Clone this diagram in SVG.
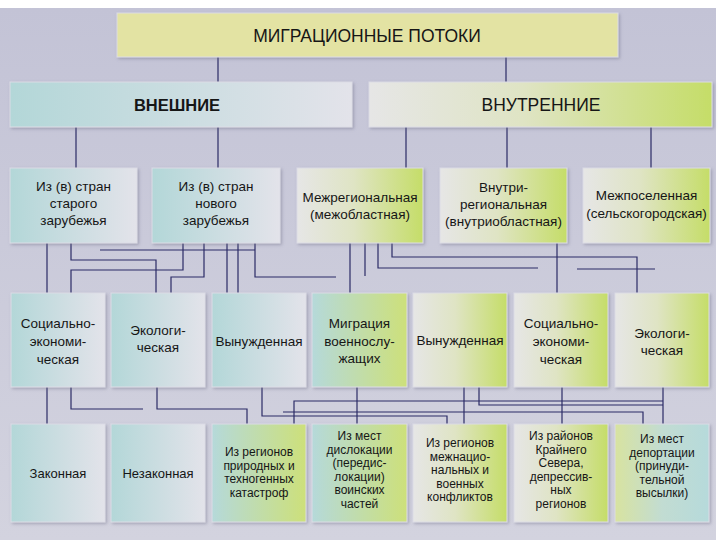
<svg xmlns="http://www.w3.org/2000/svg" width="720" height="540" viewBox="0 0 720 540">
<defs>
<linearGradient id="bg" x1="0" y1="0" x2="0" y2="1"><stop offset="0" stop-color="#c3c3d6"/><stop offset="1" stop-color="#d3d3df"/></linearGradient>
<linearGradient id="gTeal" x1="0" y1="0" x2="1" y2="0"><stop offset="0" stop-color="#b3d7d8"/><stop offset="1" stop-color="#e3e3ea"/></linearGradient>
<linearGradient id="gGreen" x1="0" y1="0" x2="1" y2="0"><stop offset="0" stop-color="#e6e6e6"/><stop offset="0.45" stop-color="#dfe4c4"/><stop offset="1" stop-color="#c5dd68"/></linearGradient>
<linearGradient id="gTG" x1="0" y1="0" x2="1" y2="0"><stop offset="0" stop-color="#b5d9da"/><stop offset="1" stop-color="#cde07a"/></linearGradient>
<linearGradient id="gGT" x1="0" y1="0" x2="1" y2="0"><stop offset="0" stop-color="#d8e3a0"/><stop offset="0.5" stop-color="#c2dcd2"/><stop offset="1" stop-color="#b6dadb"/></linearGradient>
<filter id="sh" x="-10%" y="-10%" width="125%" height="125%"><feDropShadow dx="1.5" dy="1.5" stdDeviation="1.5" flood-color="#707088" flood-opacity="0.45"/></filter>
</defs>
<style>
.b{stroke:#dcdce6;stroke-width:1;filter:url(#sh)}
text{font-family:"Liberation Sans",Arial,sans-serif;fill:#161616;text-anchor:middle}
.t1{font-size:17.5px}
.t3{font-size:13.5px}
.t5{font-size:12px}
.t6{font-size:13px}
.c path{fill:none;stroke:#2b2b66;stroke-width:1.2}
</style>
<rect x="0" y="0" width="720" height="540" fill="#ffffff"/>
<rect x="0" y="8" width="716" height="532" fill="url(#bg)"/>

<g class="c" id="connectors">
<path d="M218 57V82M506 57V82"/>
<path d="M76 127V168M218 127V168M406 127V168M507 127V168M651 127V168"/>
<path d="M47 243V293"/>
<path d="M71 243V260H156V293"/>
<path d="M183 243V270H71V293"/>
<path d="M204 243V277H171V293"/>
<path d="M227 243V293M238 243V293"/>
<path d="M100 250H255"/>
<path d="M255 243V277H336"/>
<path d="M350 243V293"/>
<path d="M365 243V276"/>
<path d="M378 243V268H538"/>
<path d="M392 243V257H637V293"/>
<path d="M557 243V293"/>
<path d="M577 269H655"/>
<path d="M47 387V424"/>
<path d="M71 387V409H143"/>
<path d="M157 387V409H247V424"/>
<path d="M262 387V416H447V424"/>
<path d="M283 412H643V424"/>
<path d="M663 387V424M663 401H294V424"/>
<path d="M357 387V424"/>
<path d="M464 387V424"/>
<path d="M479 387V405H663"/>
<path d="M562 387V424"/>
</g>

<g id="n-root"><rect class="b" x="117" y="13" width="501" height="44" fill="#e3e3a3"/><text class="t1" x="367" y="42">МИГРАЦИОННЫЕ ПОТОКИ</text></g>
<g id="n-ext"><rect class="b" x="10" y="82" width="342" height="45" fill="url(#gTeal)"/><text class="t1" x="177" y="111" style="font-weight:bold;font-size:16.5px">ВНЕШНИЕ</text></g>
<g id="n-int"><rect class="b" x="369" y="82" width="343" height="45" fill="url(#gGreen)"/><text class="t1" x="541" y="111">ВНУТРЕННИЕ</text></g>

<g id="n-old"><rect class="b" x="10" y="168" width="127" height="75" fill="url(#gTeal)"/><text class="t3" x="73.5" y="191">Из (в) стран<tspan x="73.5" dy="17">старого</tspan><tspan x="73.5" dy="17">зарубежья</tspan></text></g>
<g id="n-new"><rect class="b" x="152" y="168" width="128" height="75" fill="url(#gTeal)"/><text class="t3" x="216" y="191">Из (в) стран<tspan x="216" dy="17">нового</tspan><tspan x="216" dy="17">зарубежья</tspan></text></g>
<g id="n-interreg"><rect class="b" x="297" y="168" width="126" height="75" fill="url(#gGreen)"/><text class="t3" x="360" y="202">Межрегиональная<tspan x="360" dy="17">(межобластная)</tspan></text></g>
<g id="n-intrareg"><rect class="b" x="440" y="168" width="127" height="75" fill="url(#gGreen)"/><text class="t3" x="503.5" y="192">Внутри-<tspan x="503.5" dy="17">региональная</tspan><tspan x="503.5" dy="17">(внутриобластная)</tspan></text></g>
<g id="n-interset"><rect class="b" x="583" y="168" width="127" height="75" fill="url(#gGreen)"/><text class="t3" x="646.5" y="200">Межпоселенная<tspan x="646.5" dy="18">(сельскогородская)</tspan></text></g>

<g id="n-soc1"><rect class="b" x="11" y="293" width="94" height="94" fill="url(#gTeal)"/><text class="t3" x="58" y="328">Социально-<tspan x="58" dy="18">экономи-</tspan><tspan x="58" dy="18">ческая</tspan></text></g>
<g id="n-eco1"><rect class="b" x="111" y="293" width="94" height="94" fill="url(#gTeal)"/><text class="t3" x="158" y="335">Экологи-<tspan x="158" dy="17">ческая</tspan></text></g>
<g id="n-forced1"><rect class="b" x="212" y="293" width="94" height="94" fill="url(#gTeal)"/><text class="t3" x="259" y="346">Вынужденная</text></g>
<g id="n-mil"><rect class="b" x="312" y="293" width="95" height="94" fill="url(#gTG)"/><text class="t3" x="359.5" y="328">Миграция<tspan x="359.5" dy="18">военнослу-</tspan><tspan x="359.5" dy="17">жащих</tspan></text></g>
<g id="n-forced2"><rect class="b" x="413" y="293" width="94" height="94" fill="url(#gGreen)"/><text class="t3" x="460" y="345">Вынужденная</text></g>
<g id="n-soc2"><rect class="b" x="514" y="293" width="94" height="94" fill="url(#gGreen)"/><text class="t3" x="561" y="328">Социально-<tspan x="561" dy="18">экономи-</tspan><tspan x="561" dy="18">ческая</tspan></text></g>
<g id="n-eco2"><rect class="b" x="615" y="293" width="94" height="94" fill="url(#gGreen)"/><text class="t3" x="662" y="338">Экологи-<tspan x="662" dy="17">ческая</tspan></text></g>

<g id="n-legal"><rect class="b" x="11" y="424" width="94" height="98" fill="url(#gTeal)"/><text class="t6" x="58" y="478">Законная</text></g>
<g id="n-illegal"><rect class="b" x="111" y="424" width="94" height="98" fill="url(#gTeal)"/><text class="t6" x="158" y="478">Незаконная</text></g>
<g id="n-disaster"><rect class="b" x="212" y="424" width="94" height="98" fill="url(#gTG)"/><text class="t5" x="259" y="456">Из регионов<tspan x="259" dy="13.5">природных и</tspan><tspan x="259" dy="13.5">техногенных</tspan><tspan x="259" dy="13.5">катастроф</tspan></text></g>
<g id="n-disloc"><rect class="b" x="312" y="424" width="95" height="98" fill="url(#gTG)"/><text class="t5" x="359.5" y="440">Из мест<tspan x="359.5" dy="13.5">дислокации</tspan><tspan x="359.5" dy="13.5">(передис-</tspan><tspan x="359.5" dy="13.5">локации)</tspan><tspan x="359.5" dy="13.5">воинских</tspan><tspan x="359.5" dy="13.5">частей</tspan></text></g>
<g id="n-conflict"><rect class="b" x="413" y="424" width="94" height="98" fill="url(#gGreen)"/><text class="t5" x="460" y="447">Из регионов<tspan x="460" dy="13.5">межнацио-</tspan><tspan x="460" dy="13.5">нальных и</tspan><tspan x="460" dy="13.5">военных</tspan><tspan x="460" dy="13.5">конфликтов</tspan></text></g>
<g id="n-north"><rect class="b" x="514" y="424" width="94" height="98" fill="url(#gGreen)"/><text class="t5" x="561" y="440">Из районов<tspan x="561" dy="13.5">Крайнего</tspan><tspan x="561" dy="13.5">Севера,</tspan><tspan x="561" dy="13.5">депрессив-</tspan><tspan x="561" dy="13.5">ных</tspan><tspan x="561" dy="13.5">регионов</tspan></text></g>
<g id="n-deport"><rect class="b" x="615" y="424" width="94" height="98" fill="url(#gGT)"/><text class="t5" x="662" y="443">Из мест<tspan x="662" dy="13.5">депортации</tspan><tspan x="662" dy="13.5">(принуди-</tspan><tspan x="662" dy="13.5">тельной</tspan><tspan x="662" dy="13.5">высылки)</tspan></text></g>
</svg>
